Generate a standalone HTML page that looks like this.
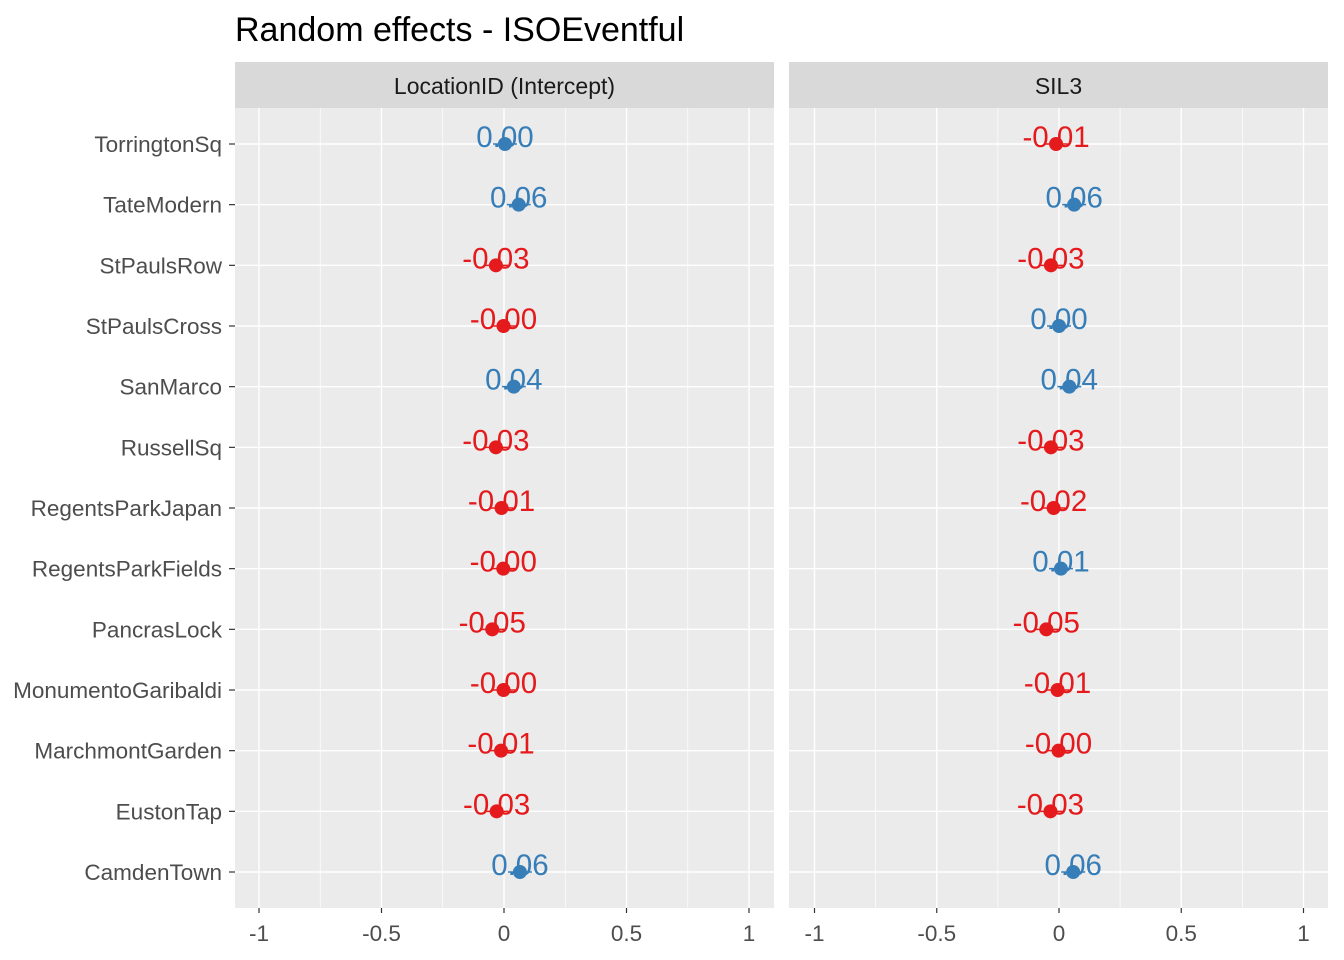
<!DOCTYPE html>
<html><head><meta charset="utf-8"><style>
body{margin:0;background:#fff;}
svg{display:block;font-family:"Liberation Sans",sans-serif;}
</style></head><body>
<svg id="chart" width="1344" height="960">
<text x="235" y="41" font-size="34" fill="#000">Random effects - ISOEventful</text>
</svg>
<script>
const groups = ["TorringtonSq","TateModern","StPaulsRow","StPaulsCross","SanMarco","RussellSq","RegentsParkJapan","RegentsParkFields","PancrasLock","MonumentoGaribaldi","MarchmontGarden","EustonTap","CamdenTown"];
const interceptValues = [0.004,0.06,-0.033,-0.002,0.04,-0.033,-0.01,-0.003,-0.048,-0.002,-0.012,-0.03,0.065];
const interceptLabels = ["0.00","0.06","-0.03","-0.00","0.04","-0.03","-0.01","-0.00","-0.05","-0.00","-0.01","-0.03","0.06"];
const sil3Values = [-0.012,0.062,-0.033,0.0,0.042,-0.033,-0.022,0.008,-0.052,-0.006,-0.002,-0.035,0.058];
const sil3Labels = ["-0.01","0.06","-0.03","0.00","0.04","-0.03","-0.02","0.01","-0.05","-0.01","-0.00","-0.03","0.06"];
const facetTitles = ["LocationID (Intercept)","SIL3"];
const xTicks = [-1,-0.5,0,0.5,1];
const xTickLabels = ["-1","-0.5","0","0.5","1"];

const svg = document.getElementById('chart');
const NS = 'http://www.w3.org/2000/svg';
function mk(tag, attrs){const e=document.createElementNS(NS,tag);for(const k in attrs)e.setAttribute(k,attrs[k]);svg.appendChild(e);return e;}
const panelTop=108, panelBot=908;
const rowY = i => 144 + i*(872-144)/12;
const panels = [{x0:235,x1:774,zero:504,unit:245,vals:interceptValues,labs:interceptLabels},
                {x0:789,x1:1328,zero:1059,unit:244.5,vals:sil3Values,labs:sil3Labels}];
panels.forEach((p,pi)=>{
  const sx = v => p.zero + v*p.unit;
  let e=mk('rect',{x:p.x0,y:panelTop,width:p.x1-p.x0,height:panelBot-panelTop,fill:'#EBEBEB'});
  
  
  e=mk('rect',{x:p.x0,y:62,width:p.x1-p.x0,height:46,fill:'#D9D9D9'});
  
  
  e=mk('text',{x:(p.x0+p.x1)/2,y:94,'text-anchor':'middle','font-size':23,fill:'#1A1A1A'});
  e.textContent=facetTitles[pi];
  
  
  for(let k=0;k<xTicks.length-1;k++){
    const m=(xTicks[k]+xTicks[k+1])/2;
    e=mk('line',{x1:sx(m),x2:sx(m),y1:panelTop,y2:panelBot,stroke:'#fff','stroke-width':0.7});
    
    
  }
  xTicks.forEach((t,k)=>{
    e=mk('line',{x1:sx(t),x2:sx(t),y1:panelTop,y2:panelBot,stroke:'#fff','stroke-width':1.4});
    
    
    e=mk('line',{x1:sx(t),x2:sx(t),y1:panelBot,y2:panelBot+5,stroke:'#333','stroke-width':1.2});
    
    
    e=mk('text',{x:sx(t),y:941,'text-anchor':'middle','font-size':22.5,fill:'#4D4D4D'});
    e.textContent=xTickLabels[k];
    
    
  });
  groups.forEach((g,i)=>{
    const y=rowY(i);
    e=mk('line',{x1:p.x0,x2:p.x1,y1:y,y2:y,stroke:'#fff','stroke-width':1.4});
    
    
  });
  groups.forEach((g,i)=>{
    const y=rowY(i), v=p.vals[i], col=v>=0?'#377EB8':'#E41A1C';
    e=mk('line',{x1:sx(v)-12,x2:sx(v)+12,y1:y,y2:y,stroke:col,'stroke-width':1.5});
    
    
    e=mk('circle',{cx:sx(v),cy:y,r:7,fill:col});
    
    
    e=mk('text',{x:sx(v),y:y+3,'text-anchor':'middle','font-size':29.5,fill:col});
    e.textContent=p.labs[i];
    
    
  });
});
groups.forEach((g,i)=>{
  const y=rowY(i);
  let e=mk('text',{x:222,y:y+8,'text-anchor':'end','font-size':22.5,fill:'#4D4D4D'});
  e.textContent=g;
  
  
  e=mk('line',{x1:229,x2:235,y1:y,y2:y,stroke:'#333','stroke-width':1.2});
  
  
});
</script>
</body></html>
